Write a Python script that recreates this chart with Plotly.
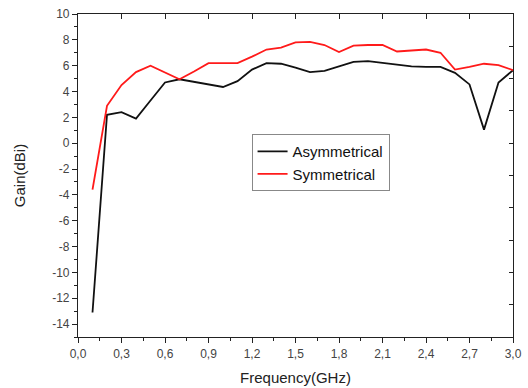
import plotly.graph_objects as go

freq = [0.1, 0.2, 0.3, 0.4, 0.5, 0.6, 0.7, 0.8, 0.9, 1.0,
        1.1, 1.2, 1.3, 1.4, 1.5, 1.6, 1.7, 1.8, 1.9, 2.0,
        2.1, 2.2, 2.3, 2.4, 2.5, 2.6, 2.7, 2.8, 2.9, 3.0]
asym = [-13.1, 2.2, 2.4, 1.9, 3.3, 4.7, 4.95, 4.75, 4.55, 4.35,
        4.8, 5.7, 6.2, 6.15, 5.85, 5.5, 5.6, 5.95, 6.3, 6.35,
        6.2, 6.05, 5.95, 5.9, 5.9, 5.45, 4.55, 1.05, 4.7, 5.65]
sym = [-3.6, 2.9, 4.5, 5.5, 6.0, 5.5, 4.95, 5.55, 6.2, 6.2,
       6.2, 6.7, 7.25, 7.4, 7.8, 7.85, 7.6, 7.05, 7.55, 7.6,
       7.6, 7.1, 7.15, 7.25, 7.0, 5.7, 5.9, 6.15, 6.05, 5.65]

x_ticks = [0.0, 0.3, 0.6, 0.9, 1.2, 1.5, 1.8, 2.1, 2.4, 2.7, 3.0]
x_labels = ["0,0", "0,3", "0,6", "0,9", "1,2", "1,5", "1,8", "2,1", "2,4", "2,7", "3,0"]
y_ticks = [10, 8, 6, 4, 2, 0, -2, -4, -6, -8, -10, -12, -14]
y_labels = ["10", "8", "6", "4", "2", "0", "-2", "-4", "-6", "-8", "-10", "-12", "-14"]

font = "Liberation Sans, Arial, sans-serif"
fig = go.Figure()
fig.add_trace(go.Scatter(x=freq, y=asym, mode="lines", name="Asymmetrical",
                         line=dict(color="#111111", width=1.8)))
fig.add_trace(go.Scatter(x=freq, y=sym, mode="lines", name="Symmetrical",
                         line=dict(color="#ff1a1a", width=1.8)))
# invisible helper trace so the mirrored (inside) tick axes are drawn
fig.add_trace(go.Scatter(x=freq, y=asym, mode="lines", xaxis="x2", yaxis="y2",
                         line=dict(width=0, color="rgba(0,0,0,0)"),
                         showlegend=False, hoverinfo="skip"))

fig.update_layout(
    width=528, height=388,
    margin=dict(l=78, r=15, t=14, b=51, autoexpand=False),
    paper_bgcolor="white", plot_bgcolor="white",
    font=dict(family=font, color="#444444", size=12),
    xaxis=dict(range=[0, 3.0], tickvals=x_ticks, ticktext=x_labels, automargin=False,
               showline=True, linecolor="#222222", linewidth=1.2, mirror=True,
               ticks="outside", ticklen=5, tickcolor="#222222",
               minor=dict(dtick=0.15, tick0=0, ticks="outside", ticklen=3, tickcolor="#222222"),
               showgrid=False, zeroline=False,
               title=dict(text="Frequency(GHz)", font=dict(size=15, color="#222222"), standoff=12)),
    yaxis=dict(range=[-15, 10], tickvals=y_ticks, ticktext=y_labels, automargin=False,
               showline=True, linecolor="#222222", linewidth=1.2, mirror=True,
               ticks="outside", ticklen=5, tickcolor="#222222",
               minor=dict(dtick=1, tick0=0, ticks="outside", ticklen=3, tickcolor="#222222"),
               showgrid=False, zeroline=False,
               title=dict(text="Gain(dBi)", font=dict(size=15, color="#222222"), standoff=22)),
    xaxis2=dict(overlaying="x", side="top", range=[0, 3.0], dtick=0.3, tick0=0, automargin=False,
                ticks="inside", ticklen=5, tickcolor="#222222", tickwidth=1.2, showticklabels=False,
                showgrid=False, zeroline=False, showline=False),
    yaxis2=dict(overlaying="y", side="right", range=[-15, 10], dtick=2.5, tick0=0, automargin=False,
                ticks="inside", ticklen=4, tickcolor="#222222", tickwidth=1.2, showticklabels=False,
                showgrid=False, zeroline=False, showline=False),
    legend=dict(x=0.399, y=0.628, xanchor="left", yanchor="top",
                bordercolor="#888888", borderwidth=1, bgcolor="white",
                font=dict(size=15, color="#111111"), tracegroupgap=0,
                itemwidth=30),
    showlegend=True,
)

fig.write_html("out.html",
               config={"displayModeBar": False},
               post_script="document.body.style.margin='0px';document.body.style.padding='0px';"
                           "document.body.style.overflow='hidden';")
